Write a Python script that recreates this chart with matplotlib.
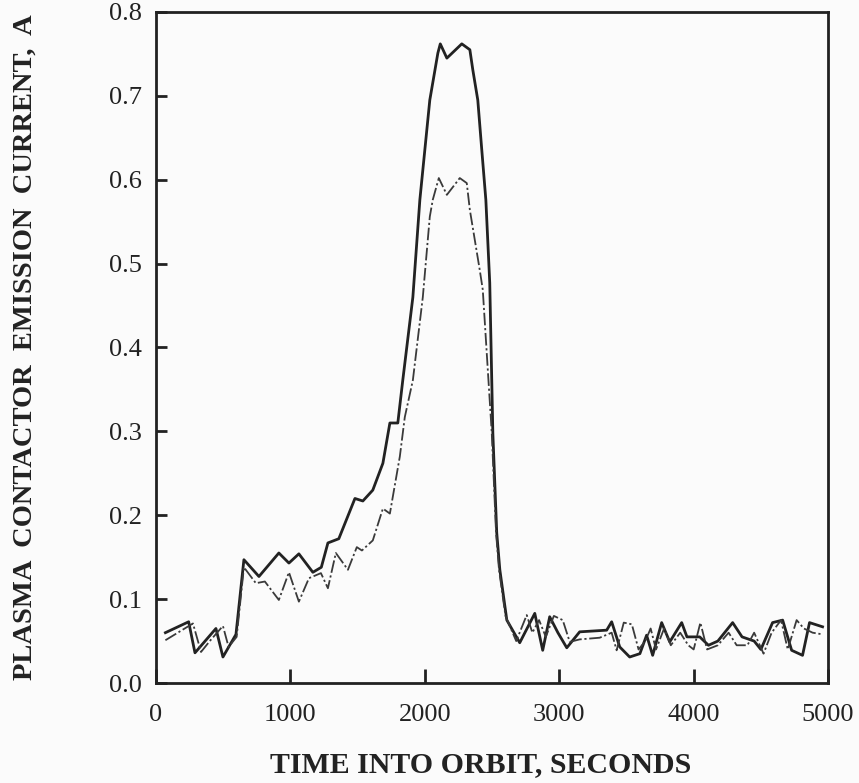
import matplotlib
matplotlib.use("Agg")
import matplotlib.pyplot as plt

# Solid curve (upper)
t_solid = [70, 243, 290, 446, 498, 595, 654, 766, 914, 989, 1063, 1167, 1230, 1279,
           1360, 1480, 1539, 1613, 1688, 1740, 1799, 1836, 1911, 1963, 2037, 2097,
           2115, 2164, 2275, 2335, 2357, 2394, 2424, 2454, 2483, 2506, 2535, 2558,
           2610, 2706, 2818, 2877, 2929, 2990, 3056, 3152, 3353, 3390, 3450, 3524,
           3600, 3650, 3695, 3762, 3822, 3911, 3950, 4045, 4110, 4180, 4290, 4360,
           4450, 4500, 4587, 4662, 4729, 4810, 4862, 4959]
i_solid = [0.060, 0.073, 0.036, 0.065, 0.031, 0.058, 0.147, 0.127, 0.155, 0.143, 0.154,
           0.132, 0.138, 0.167, 0.172, 0.220, 0.217, 0.230, 0.262, 0.310, 0.310, 0.361,
           0.460, 0.576, 0.695, 0.751, 0.762, 0.745, 0.762, 0.755, 0.731, 0.695, 0.635,
           0.576, 0.477, 0.298, 0.179, 0.135, 0.075, 0.048, 0.083, 0.039, 0.079, 0.060,
           0.042, 0.061, 0.063, 0.073, 0.043, 0.031, 0.035, 0.057, 0.033, 0.072, 0.049,
           0.072, 0.055, 0.055, 0.045, 0.050, 0.072, 0.055, 0.050, 0.040, 0.072, 0.075,
           0.039, 0.033, 0.072, 0.067]

# Dash-dot curve (lower)
t_dash = [70, 275, 335, 400, 498, 540, 600, 654, 743, 810, 914, 989, 1063, 1138, 1227,
          1279, 1338, 1428, 1494, 1532, 1613, 1688, 1740, 1814, 1851, 1911, 1985, 2037,
          2059, 2104, 2164, 2260, 2312, 2335, 2409, 2431, 2498, 2530, 2552, 2600, 2680,
          2758, 2800, 2850, 2900, 2960, 3026, 3078, 3152, 3301, 3390, 3427, 3480, 3540,
          3590, 3640, 3680, 3720, 3780, 3830, 3900, 3960, 4000, 4050, 4100, 4180, 4260,
          4320, 4400, 4450, 4520, 4580, 4650, 4700, 4766, 4820, 4885, 4959]
i_dash = [0.051, 0.071, 0.037, 0.050, 0.068, 0.043, 0.055, 0.138, 0.119, 0.121, 0.099,
          0.132, 0.097, 0.125, 0.131, 0.113, 0.155, 0.135, 0.162, 0.158, 0.170, 0.208,
          0.202, 0.270, 0.317, 0.361, 0.460, 0.556, 0.576, 0.602, 0.582, 0.602, 0.596,
          0.564, 0.492, 0.469, 0.298, 0.179, 0.135, 0.080, 0.050, 0.081, 0.060, 0.075,
          0.055, 0.080, 0.075, 0.049, 0.052, 0.054, 0.060, 0.039, 0.072, 0.070, 0.040,
          0.050, 0.065, 0.040, 0.065, 0.045, 0.060, 0.045, 0.040, 0.072, 0.040, 0.045,
          0.060, 0.045, 0.045, 0.060, 0.035, 0.060, 0.075, 0.040, 0.075, 0.065, 0.060,
          0.058]

x_ticks = [0, 1000, 2000, 3000, 4000, 5000]
y_ticks = [0.0, 0.1, 0.2, 0.3, 0.4, 0.5, 0.6, 0.7, 0.8]

plt.rcParams['font.family'] = ['Liberation Serif', 'DejaVu Serif']

fig = plt.figure(figsize=(8.59, 7.83), dpi=100)
fig.patch.set_facecolor('#fbfbfb')
ax = fig.add_axes([0.1816, 0.1277, 0.7824, 0.857])
ax.set_facecolor('#fbfbfb')

ax.plot(t_solid, i_solid, color='#222222', lw=2.0, solid_joinstyle='round')
ax.plot(t_dash, i_dash, color='#3a3a3a', lw=1.3, linestyle=(0, (7, 1.5, 1.2, 1.5)))

ax.set_xlim(0, 5000)
ax.set_ylim(0, 0.8)
ax.set_xticks(x_ticks)
ax.set_xticklabels([str(v) for v in x_ticks])
ax.set_yticks(y_ticks)
ax.set_yticklabels([f"{v:.1f}" for v in y_ticks])

for s in ax.spines.values():
    s.set_linewidth(2.0)
    s.set_color('#222222')

ax.tick_params(axis='x', direction='in', length=10, width=2, pad=15,
               labelsize=19, colors='#222222')
ax.tick_params(axis='y', direction='in', length=8, width=2, pad=10,
               labelsize=19, colors='#222222')

fig.text(0.559, 0.023, 'TIME INTO ORBIT, SECONDS', ha='center', va='center',
         fontsize=21.5, fontweight='bold', color='#222222')
fig.text(0.029, 0.557, 'PLASMA  CONTACTOR  EMISSION  CURRENT,  A', ha='center',
         va='center', rotation=90, fontsize=20.5, fontweight='bold', color='#222222')

fig.savefig('out.png', dpi=100, facecolor=fig.get_facecolor())
